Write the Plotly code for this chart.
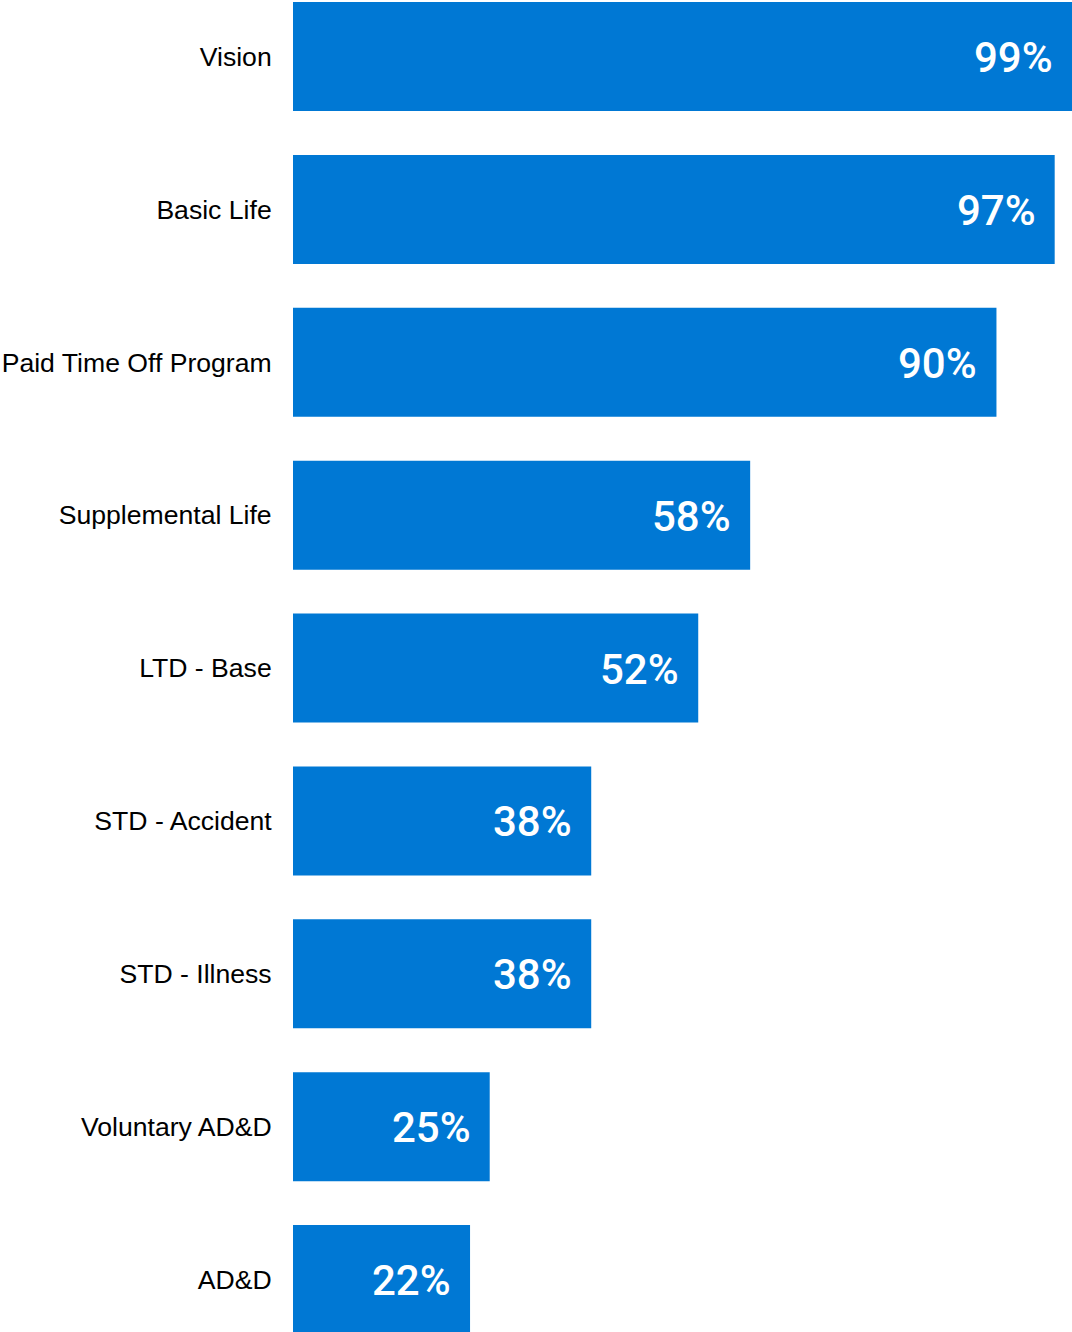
import plotly.graph_objects as go

categories = ["Vision", "Basic Life", "Paid Time Off Program", "Supplemental Life",
              "LTD - Base", "STD - Accident", "STD - Illness", "Voluntary AD&D", "AD&D"]
values = [99, 96.8, 89.4, 58.1, 51.5, 37.9, 37.9, 25.0, 22.5]
value_labels = ["99%", "97%", "90%", "58%", "52%", "38%", "38%", "25%", "22%"]

BAR_COLOR = "#0078D4"

fig = go.Figure(go.Bar(
    x=values, y=categories, orientation="h",
    marker=dict(color=BAR_COLOR, line=dict(width=0)),
    hoverinfo="skip",
))

for c, v, t in zip(categories, values, value_labels):
    fig.add_annotation(x=v, y=c, text=t, xref="x", yref="y",
                       xanchor="right", yanchor="middle", xshift=-17, yshift=-1,
                       showarrow=False,
                       font=dict(family="Roboto", size=42, color="white", weight=500))

fig.update_layout(
    width=1072, height=1332,
    margin=dict(l=293, r=0, t=0, b=0),
    paper_bgcolor="white", plot_bgcolor="white",
    bargap=0.287, showlegend=False,
    xaxis=dict(range=[0, 99], visible=False, fixedrange=True),
    yaxis=dict(range=[8.343, -0.3696], showgrid=False, zeroline=False, showline=False,
               ticks="outside", ticklen=15, tickcolor="rgba(0,0,0,0)",
               tickfont=dict(family="Liberation Sans, Arial", size=26.6, color="#000000"),
               fixedrange=True),
)

fig.write_html("out.html")
